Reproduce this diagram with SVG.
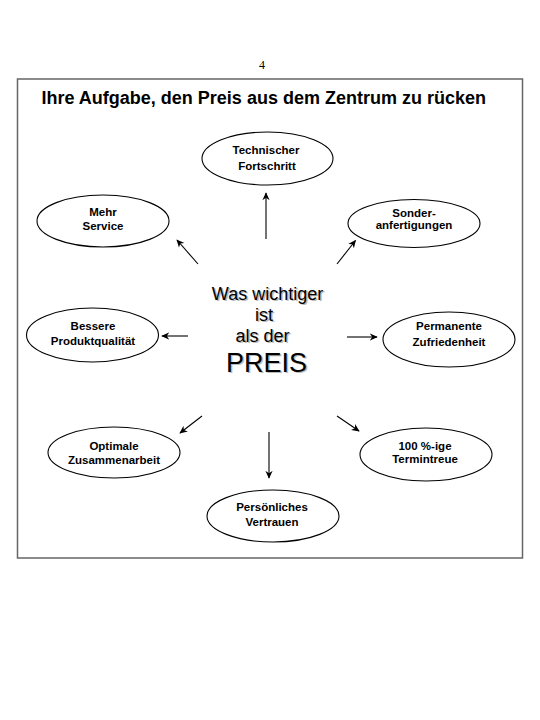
<svg xmlns="http://www.w3.org/2000/svg" width="540" height="720" viewBox="0 0 540 720">
<defs>
<marker id="ah" viewBox="0 0 10 10" refX="9" refY="5" markerWidth="8" markerHeight="8" markerUnits="userSpaceOnUse" orient="auto">
<path d="M0,0.5 L10,5 L0,9.5 L3,5 Z" fill="#000"/>
</marker>
</defs>
<style>
.node ellipse{fill:#fff;stroke:#000;stroke-width:1.1}
.node text{font-family:"Liberation Sans",Arial,sans-serif;font-weight:bold;font-size:11.5px;fill:#000;text-anchor:middle}
.conn line{stroke:#000;stroke-width:1.1;marker-end:url(#ah)}
.ctr{font-family:"Liberation Sans",Arial,sans-serif;text-anchor:middle}
.sh{fill:#bbb}
</style>
<rect width="540" height="720" fill="#fff"/>
<text x="262" y="69" font-family="Liberation Serif,serif" font-size="12" text-anchor="middle">4</text>
<rect x="17.5" y="79" width="505" height="479" fill="none" stroke="#666" stroke-width="1.5"/>
<text x="41.5" y="103.5" font-family="Liberation Sans,Arial,sans-serif" font-weight="bold" font-size="18">Ihre Aufgabe, den Preis aus dem Zentrum zu rücken</text>

<g id="center">
<g class="ctr sh" transform="translate(1.5,1.5)">
<text x="267.5" y="299.5" font-size="18">Was wichtiger</text>
<text x="264" y="320.5" font-size="18">ist</text>
<text x="262.5" y="341.5" font-size="18">als der</text>
<text x="266.5" y="371.5" font-size="27">PREIS</text>
</g>
<g class="ctr">
<text x="267.5" y="299.5" font-size="18">Was wichtiger</text>
<text x="264" y="320.5" font-size="18">ist</text>
<text x="262.5" y="341.5" font-size="18">als der</text>
<text x="266.5" y="371.5" font-size="27">PREIS</text>
</g>
</g>

<g id="connectors" class="conn">
<line x1="266" y1="239" x2="266" y2="193"/>
<line x1="337" y1="264" x2="355.5" y2="240.5"/>
<line x1="198" y1="264" x2="177" y2="240"/>
<line x1="188" y1="336" x2="162" y2="336"/>
<line x1="347" y1="337" x2="377" y2="337"/>
<line x1="202" y1="416" x2="180" y2="433"/>
<line x1="337" y1="416" x2="359" y2="431"/>
<line x1="269" y1="432" x2="269" y2="478"/>
</g>

<g id="n-technischer" class="node">
<ellipse cx="267.5" cy="158.5" rx="65.5" ry="26.5"/>
<text x="266" y="154">Technischer</text>
<text x="267" y="169.5">Fortschritt</text>
</g>
<g id="n-sonder" class="node">
<ellipse cx="414" cy="223.5" rx="66" ry="24"/>
<text x="414" y="217">Sonder-</text>
<text x="414" y="229">anfertigungen</text>
</g>
<g id="n-service" class="node">
<ellipse cx="103" cy="221" rx="66" ry="26"/>
<text x="103" y="216">Mehr</text>
<text x="103" y="229.5">Service</text>
</g>
<g id="n-produkt" class="node">
<ellipse cx="92.5" cy="335" rx="66" ry="27"/>
<text x="93" y="330">Bessere</text>
<text x="93" y="345">Produktqualität</text>
</g>
<g id="n-zufrieden" class="node">
<ellipse cx="449" cy="339.5" rx="66" ry="27.5"/>
<text x="449" y="330">Permanente</text>
<text x="449" y="346">Zufriedenheit</text>
</g>
<g id="n-zusammen" class="node">
<ellipse cx="114" cy="452.5" rx="66" ry="25.5"/>
<text x="114" y="450">Optimale</text>
<text x="114" y="464">Zusammenarbeit</text>
</g>
<g id="n-termin" class="node">
<ellipse cx="426" cy="454.5" rx="66" ry="26.5"/>
<text x="425" y="450">100 %-ige</text>
<text x="425" y="462.5">Termintreue</text>
</g>
<g id="n-vertrauen" class="node">
<ellipse cx="273" cy="516" rx="66" ry="26"/>
<text x="272" y="510.5">Persönliches</text>
<text x="272" y="526">Vertrauen</text>
</g>
</svg>
